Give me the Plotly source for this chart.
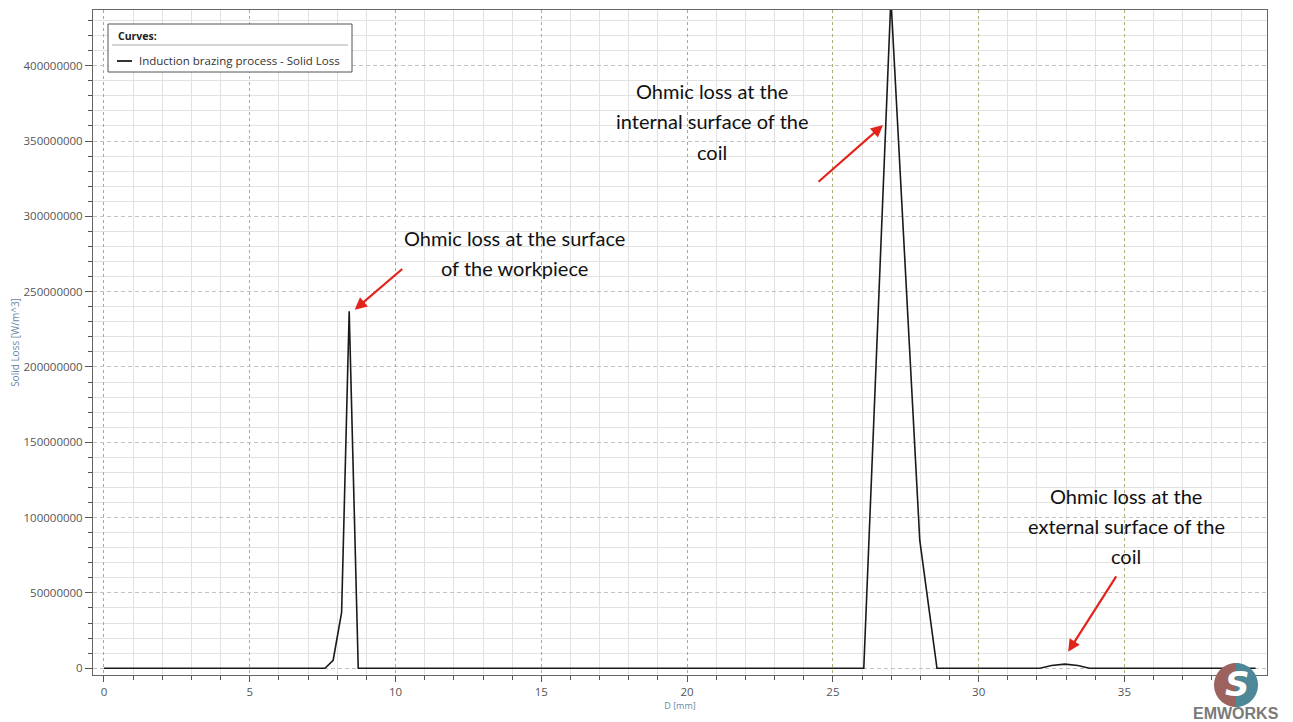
import plotly.graph_objects as go

# ---- data ----
d_mm = [0.0, 7.58, 7.86, 8.15, 8.41, 8.72, 26.06, 26.99, 27.98, 28.57,
        32.1, 32.5, 32.96, 33.4, 33.8, 39.5]
solid_loss = [0.0, 0.0, 5.3e6, 37e6, 237e6, 0.0, 0.0, 445e6, 85e6, 0.0,
              0.0, 1.8e6, 2.7e6, 1.8e6, 0.0, 0.0]

series_name = "Induction brazing process - Solid Loss"
x_title = "D [mm]"
y_title = "Solid Loss [W/m^3]"

notes = [
    # (lines, x_center, y_center_of_block)
    (["Ohmic loss at the surface", "of the workpiece"], 14.09, 275.8e6),
    (["Ohmic loss at the", "internal surface of the", "coil"], 20.86, 363e6),
    (["Ohmic loss at the", "external surface of the", "coil"], 35.07, 94.6e6),
]
arrows = [  # head (x, y) and tail offset in px
    (8.60, 238e6, 49, -42),
    (26.72, 360.6e6, -66, 58),
    (33.07, 10.9e6, 49, -77),
]

fig = go.Figure()
fig.add_trace(go.Scatter(x=d_mm, y=solid_loss, mode="lines", name=series_name,
                         line=dict(color="#1a1a1a", width=1.6), showlegend=False))

W, H = 1293, 722
L, R, T, B = 93, 26, 10, 47
pw, ph = W - L - R, H - T - B
px_per_y = 1.504e-6  # px per W/m^3

def px2paper(px, py):
    return (px - L) / pw, (H - B - py) / ph

annos = []
line_gap = 30
for lines, xc, yc in notes:
    n = len(lines)
    for i, t in enumerate(lines):
        off_px = (i - (n - 1) / 2) * line_gap
        annos.append(dict(x=xc, y=yc - off_px / px_per_y, xref="x", yref="y", text=t,
                          showarrow=False, xanchor="center", yanchor="middle",
                          font=dict(family="Lato", size=20, color="#111")))
for hx, hy, ax, ay in arrows:
    annos.append(dict(x=hx, y=hy, xref="x", yref="y", text="", showarrow=True,
                      ax=ax, ay=ay, arrowcolor="#e3241b", arrowwidth=2.2,
                      arrowhead=2, arrowsize=1.1))

# legend (drawn manually)
shapes = []
x0, y0 = px2paper(108, 72)
x1, y1 = px2paper(352, 24)
shapes.append(dict(type="rect", xref="paper", yref="paper", x0=x0, y0=y0, x1=x1, y1=y1,
                   line=dict(color="#555", width=1), fillcolor="white", layer="above"))
sx0, sy = px2paper(112, 45)
sx1, _ = px2paper(348, 45)
shapes.append(dict(type="line", xref="paper", yref="paper", x0=sx0, y0=sy, x1=sx1, y1=sy,
                   line=dict(color="#aaa", width=1), layer="above"))
lx0, ly = px2paper(117, 61)
lx1, _ = px2paper(132, 61)
shapes.append(dict(type="line", xref="paper", yref="paper", x0=lx0, y0=ly, x1=lx1, y1=ly,
                   line=dict(color="#333", width=2), layer="above"))
cx, cy = px2paper(116, 36)
annos.append(dict(x=cx, y=cy, xref="paper", yref="paper", text="<b>Curves:</b>",
                  showarrow=False, xanchor="left", yanchor="middle",
                  font=dict(family="Open Sans", size=10.5, color="#222")))
tx, ty = px2paper(137, 61)
annos.append(dict(x=tx, y=ty, xref="paper", yref="paper", text=series_name,
                  showarrow=False, xanchor="left", yanchor="middle",
                  font=dict(family="Open Sans", size=11.5, color="#333")))

# logo
def half_circle_path(cxp, cyp, r, side):
    k = 0.5523
    s = -1 if side == "left" else 1
    pts = [(cxp, cyp - r), (cxp + s * k * r, cyp - r), (cxp + s * r, cyp - k * r), (cxp + s * r, cyp),
           (cxp + s * r, cyp + k * r), (cxp + s * k * r, cyp + r), (cxp, cyp + r)]
    pp = [px2paper(a, b) for a, b in pts]
    return ("M {:.5f},{:.5f} C {:.5f},{:.5f} {:.5f},{:.5f} {:.5f},{:.5f} "
            "C {:.5f},{:.5f} {:.5f},{:.5f} {:.5f},{:.5f} Z").format(*[v for p in pp for v in p])

shapes.append(dict(type="path", xref="paper", yref="paper", path=half_circle_path(1236, 685, 22, "left"),
                   fillcolor="#9b625e", line=dict(width=0), layer="above"))
shapes.append(dict(type="path", xref="paper", yref="paper", path=half_circle_path(1236, 685, 22, "right"),
                   fillcolor="#4e8797", line=dict(width=0), layer="above"))
sx, sy2 = px2paper(1237, 684)
annos.append(dict(x=sx, y=sy2, xref="paper", yref="paper", text="<b><i>S</i></b>", showarrow=False,
                  xanchor="center", yanchor="middle",
                  font=dict(family="DejaVu Sans", size=34, color="white")))
ex, ey = px2paper(1236, 713)
annos.append(dict(x=ex, y=ey, xref="paper", yref="paper", text="<b>EMWORKS</b>", showarrow=False,
                  xanchor="center", yanchor="middle",
                  font=dict(family="Liberation Sans", size=16, color="#7a7a7a")))

fig.update_layout(
    width=W, height=H,
    margin=dict(l=L, r=R, t=T, b=B),
    plot_bgcolor="white", paper_bgcolor="white",
    annotations=annos, shapes=shapes, showlegend=False,
    xaxis=dict(range=[-0.377, 39.89], tick0=0, dtick=5, showline=True, mirror=True,
               linecolor="#666", linewidth=1, ticks="outside", ticklen=6, tickcolor="#555",
               showgrid=True, gridcolor="#adad74", griddash="dot", gridwidth=1.3,
               zeroline=False,
               minor=dict(dtick=1, ticks="outside", ticklen=4, tickcolor="#555",
                          showgrid=True, gridcolor="#e2e2e2", gridwidth=1, griddash="solid"),
               tickfont=dict(family="Open Sans", size=11.5, color="#555"),
               title=dict(text=x_title, standoff=2,
                          font=dict(family="Open Sans", size=9, color="#6a88a6"))),
    yaxis=dict(range=[-4.5e6, 437e6], tick0=0, dtick=50e6, tickformat="d",
               showline=True, mirror=True, linecolor="#666", linewidth=1,
               ticks="outside", ticklen=7, tickcolor="#555",
               showgrid=True, gridcolor="#c2c2c2", griddash="4px,3px", gridwidth=1,
               zeroline=False,
               minor=dict(dtick=10e6, ticks="outside", ticklen=4, tickcolor="#555",
                          showgrid=True, gridcolor="#e2e2e2", gridwidth=1, griddash="solid"),
               tickfont=dict(family="Open Sans", size=11.5, color="#555"),
               title=dict(text=y_title, standoff=2,
                          font=dict(family="Open Sans", size=10, color="#6a88a6"))),
)

fig.write_html("out.html", config={"displayModeBar": False},
               post_script="document.body.style.margin='0';")
